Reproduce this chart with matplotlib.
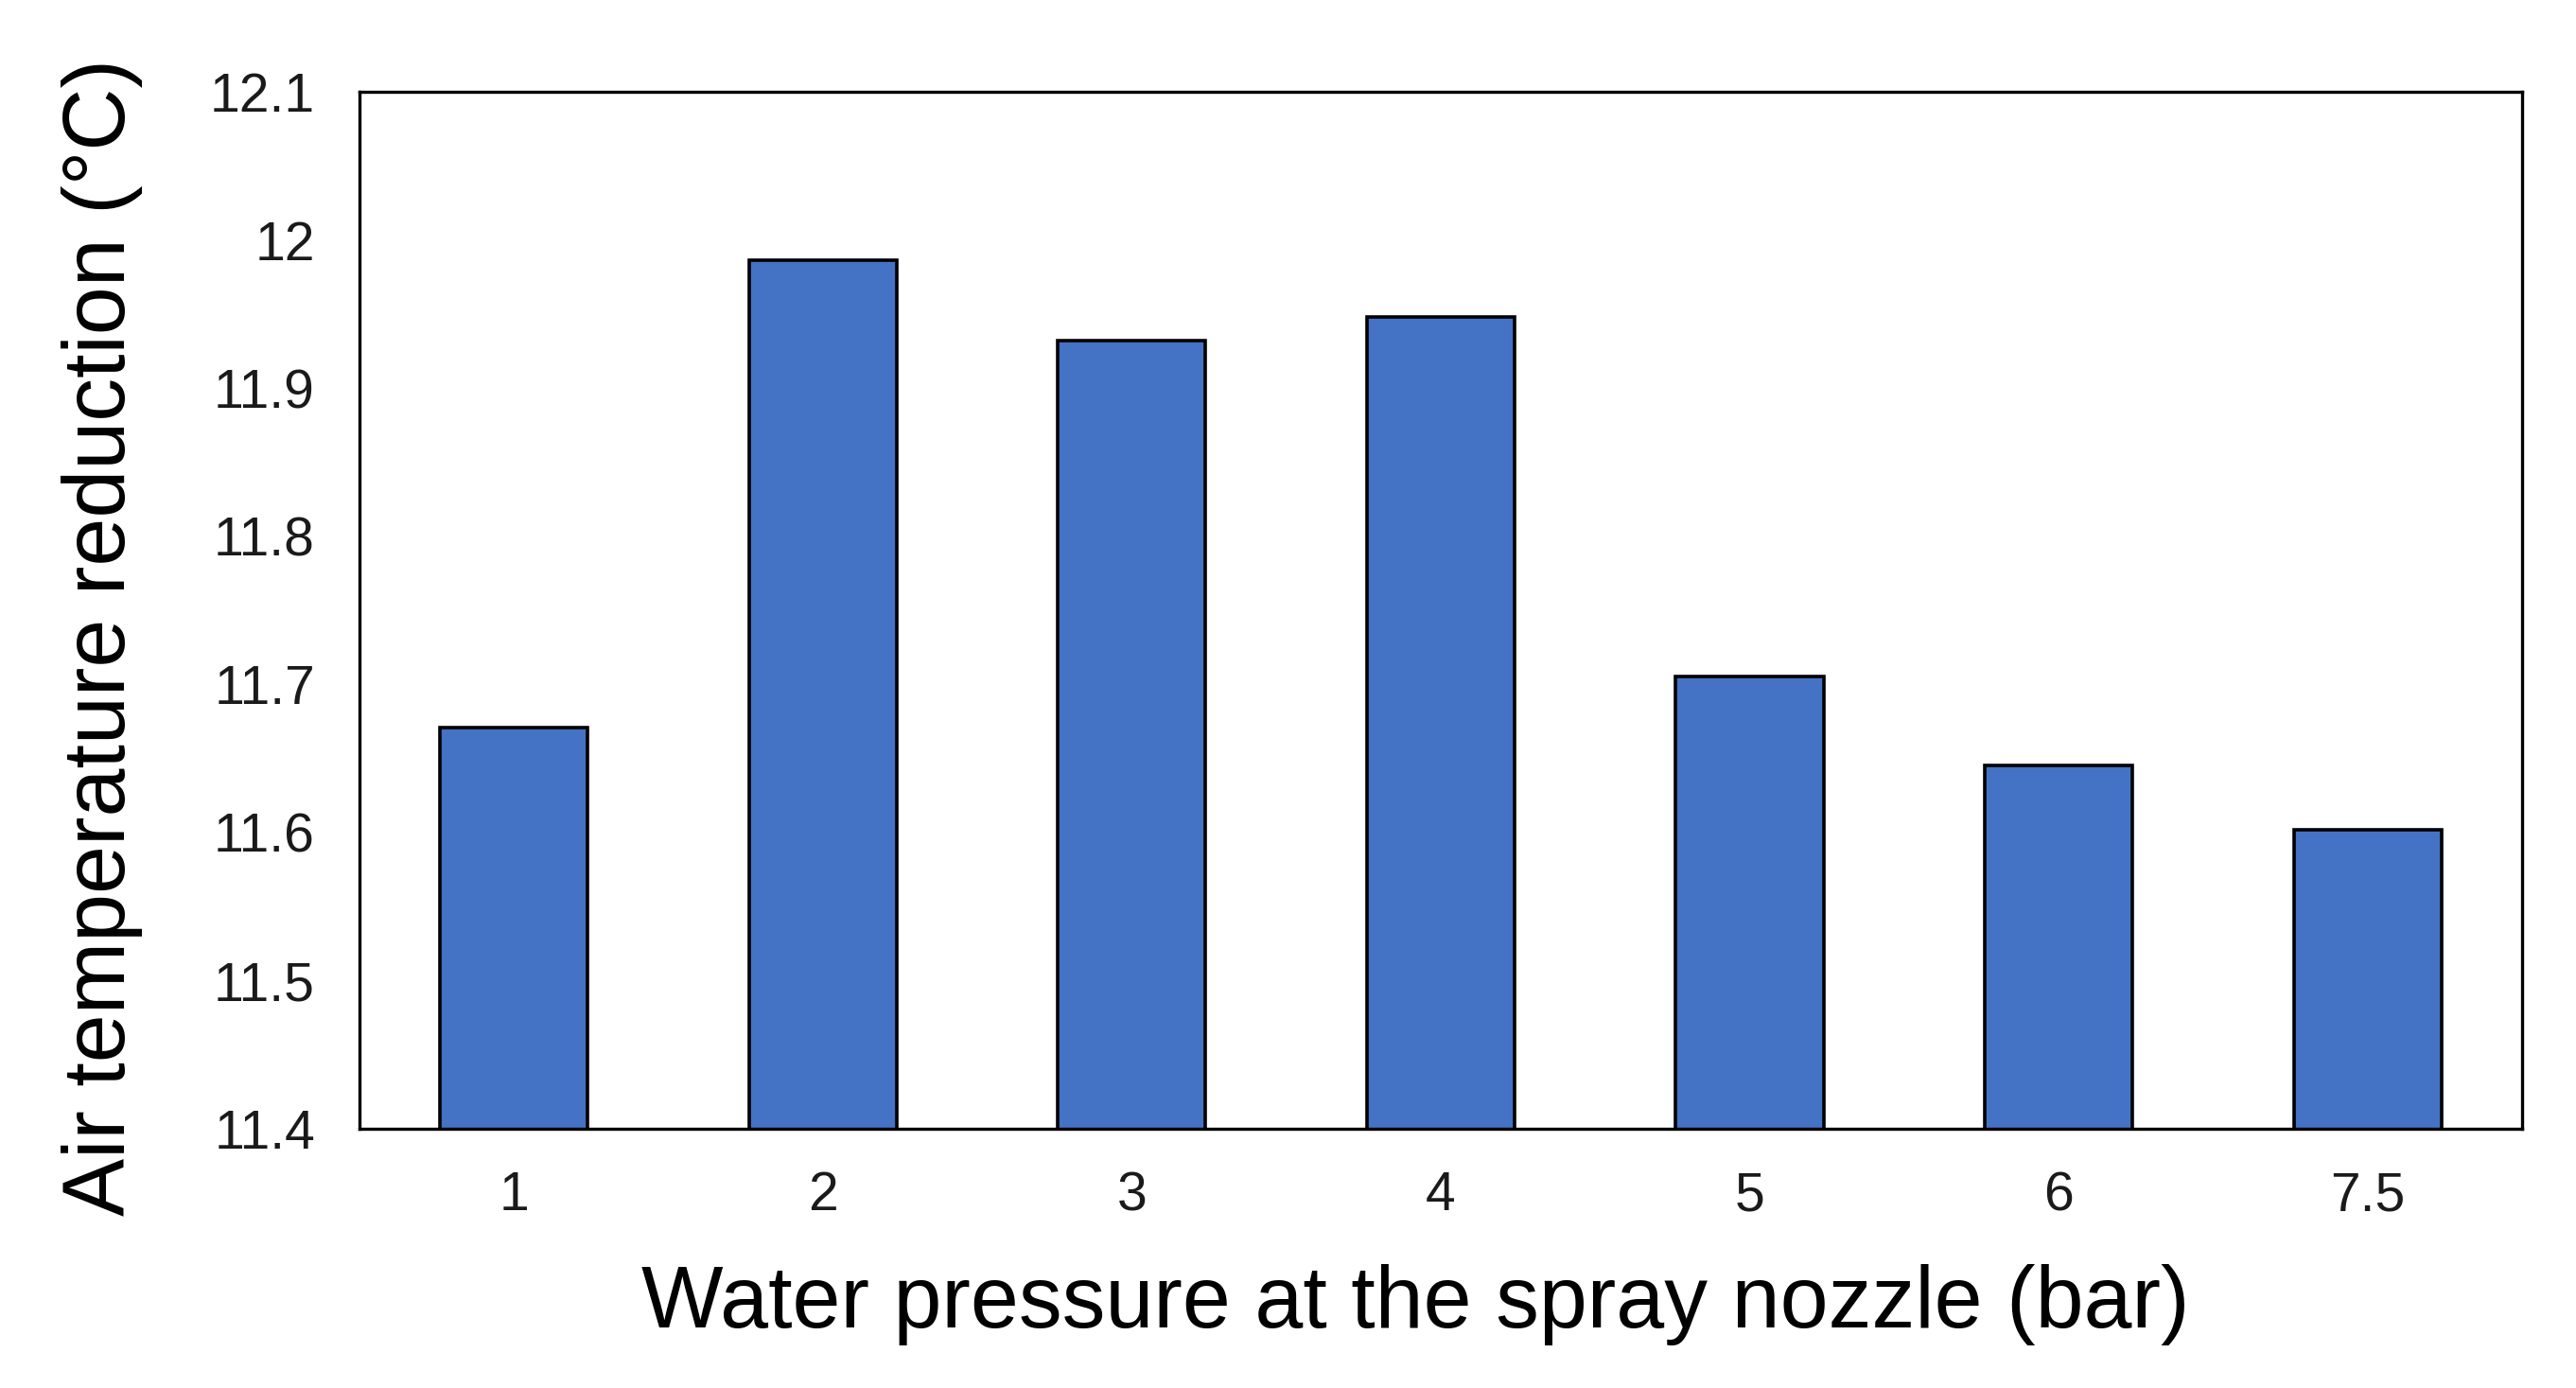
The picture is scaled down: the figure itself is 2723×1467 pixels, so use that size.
import numpy as np
import matplotlib.pyplot as plt
from matplotlib.ticker import FuncFormatter

plt.rcParams['font.family'] = ['Liberation Sans', 'DejaVu Sans']

# water pressure at the nozzle (bar) and measured reduction (degC)
pressure_labels = ['1', '2', '3', '4', '5', '6', '7.5']
temp_reduction = [11.671, 11.986, 11.932, 11.948, 11.705, 11.645, 11.602]
y_ticks = [11.4, 11.5, 11.6, 11.7, 11.8, 11.9, 12.0, 12.1]

fig = plt.figure(figsize=(27.23, 14.67), dpi=100)
ax = fig.add_axes([0.1396, 0.1868, 0.8394, 0.7471])

x = np.arange(len(pressure_labels))
ax.bar(x, temp_reduction, width=0.478, color='#4472C4',
       edgecolor='black', linewidth=2.6, zorder=2)

ax.set_xlim(-0.5, len(pressure_labels) - 0.5)
ax.set_ylim(11.4, 12.1)
ax.set_xticks(x)
ax.set_xticklabels(pressure_labels)
ax.set_yticks(y_ticks)
ax.yaxis.set_major_formatter(FuncFormatter(lambda v, p: '%g' % round(v, 2)))
ax.tick_params(axis='both', length=0, labelsize=41, colors='#1a1a1a')
ax.tick_params(axis='y', pad=34)
ax.tick_params(axis='x', pad=32)

for s in ax.spines.values():
    s.set_linewidth(2.4)
    s.set_color('black')

fig.text(0.0397, 0.541, 'Air temperature reduction (\u00b0C)', rotation=90,
         ha='center', va='center', fontsize=66)
fig.text(0.5494, 0.0435, 'Water pressure at the spray nozzle (bar)',
         ha='center', va='baseline', fontsize=66)

fig.savefig('out.png', dpi=100)
